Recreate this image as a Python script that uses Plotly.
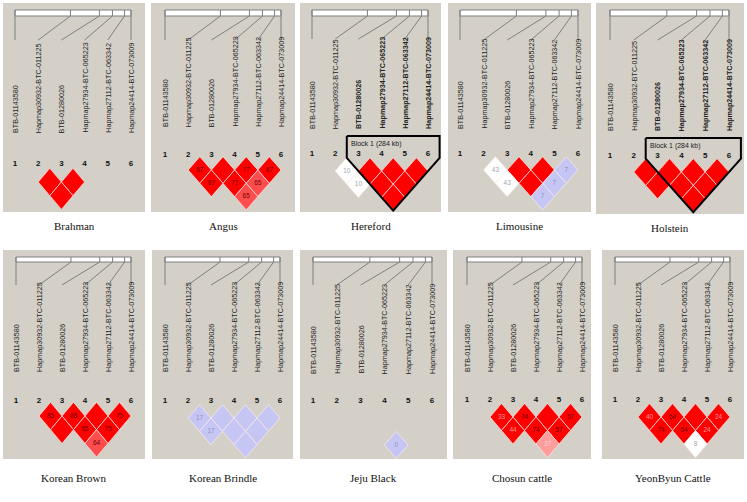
import plotly.graph_objects as go

W, H = 747, 502

# ---------------- data ----------------
BREEDS = ["Brahman", "Angus", "Hereford", "Limousine", "Holstein",
          "Korean Brown", "Korean Brindle", "Jeju Black", "Chosun cattle", "YeonByun Cattle"]
MARKERS = ["BTB-01143580", "Hapmap30932-BTC-011225", "BTB-01280026",
           "Hapmap27934-BTC-065223", "Hapmap27112-BTC-063342", "Hapmap24414-BTC-073009"]
MARKER_NUM = ["1", "2", "3", "4", "5", "6"]
POS_KB = [0, 499, 760, 877, 986, 1044]          # physical map positions (kb)
PAIRS = [(2, 3), (3, 4), (4, 5), (5, 6), (2, 4), (3, 5), (4, 6), (3, 6)]

# D' x 100 per pair (None = not drawn, 100 = not printed)
DP_BRAHMAN = [100, 100, None, None, 100, None, None, None]
DP_ANGUS = [87, 100, 77, 87, 87, 77, 65, 65]
DP_HEREFORD = [10, 100, 100, 100, 10, 100, 100, 100]
DP_LIMOUSINE = [43, 100, 100, 7, 43, 100, 7, 7]
DP_HOLSTEIN = [100, 100, 100, 100, 100, 100, 100, 100]
DP_KBROWN = [85, 68, 100, 75, 100, 65, 75, 64]
DP_KBRINDLE = [17, 100, 100, 100, 17, 100, 100, 100]
DP_JEJU = [None, None, None, None, None, None, None, 0]
DP_CHOSUN = [33, 74, 100, 57, 44, 74, 57, 37]
DP_YEONBYUN = [40, 54, 100, 24, 74, 54, 24, 8]

# LD colour class per pair: R strong (dark text), r strong (light text), M mid-red,
# P pink, W weak (white), B low-LOD (blue)
CL_BRAHMAN = ["R", "R", "", "", "R", "", "", ""]
CL_ANGUS = ["R", "R", "R", "R", "R", "R", "M", "M"]
CL_HEREFORD = ["W", "R", "R", "R", "W", "R", "R", "R"]
CL_LIMOUSINE = ["W", "R", "R", "B", "W", "R", "B", "B"]
CL_HOLSTEIN = ["R"] * 8
CL_KBROWN = ["R", "R", "R", "R", "R", "R", "R", "M"]
CL_KBRINDLE = ["B"] * 8
CL_JEJU = ["", "", "", "", "", "", "", "B"]
CL_CHOSUN = ["r", "R", "R", "R", "r", "R", "R", "P"]
CL_YEONBYUN = ["r", "R", "R", "r", "R", "R", "r", "W"]

DPS = [DP_BRAHMAN, DP_ANGUS, DP_HEREFORD, DP_LIMOUSINE, DP_HOLSTEIN,
       DP_KBROWN, DP_KBRINDLE, DP_JEJU, DP_CHOSUN, DP_YEONBYUN]
CLS = [CL_BRAHMAN, CL_ANGUS, CL_HEREFORD, CL_LIMOUSINE, CL_HOLSTEIN,
       CL_KBROWN, CL_KBRINDLE, CL_JEJU, CL_CHOSUN, CL_YEONBYUN]
BLOCKS = {"Hereford": (3, 6, "Block 1 (284 kb)"), "Holstein": (3, 6, "Block 1 (284 kb)")}

# ---------------- layout geometry (pixels) ----------------
# L, R, T, B, m1, m6, bar_top, bar_bot, line_end, label_bottom, num_y, row1, vstep, title_y
GEOM = [
    (3, 145, 3, 212, 15, 131, 10, 16, 40, 134, 164, 182, 13.7, 226),
    (151, 295, 3, 212, 165, 281, 10, 16, 40, 128, 155, 170, 13.3, 226),
    (300, 441, 3, 212, 312, 428, 10, 16, 39, 130, 154, 171, 13.2, 226),
    (448, 591, 3, 212, 460, 578, 10, 16, 40, 130, 154, 170, 13.3, 226),
    (596, 744, 3, 214, 610, 729, 10, 16, 40, 132, 156, 172, 13.4, 228),
    (3, 145, 250, 459, 16, 131, 257, 262, 285, 373, 401, 416, 13.7, 478),
    (152, 293, 250, 459, 165, 280, 257, 262, 285, 373, 401, 418, 13.3, 478),
    (300, 447, 250, 459, 313, 432, 257, 262, 285, 375, 401, 418, 13.5, 478),
    (453, 591, 250, 459, 467, 582, 257, 262, 285, 373, 400, 417, 13.5, 478),
    (602, 744, 250, 459, 615, 730, 257, 262, 285, 373, 400, 417, 13.5, 478),
]

FILL = {"R": "#ff0000", "r": "#ff0000", "M": "#ff4d4d", "P": "#ff9c9c",
        "W": "#ffffff", "B": "#c6c6f4"}
TXT = {"R": "#6e0000", "r": "#ff9a9a", "M": "#6e0000", "P": "#ffd0d0",
       "W": "#a8a8a8", "B": "#9090c0"}

GRAY = "#d4d0c8"
LINEC = "#7f7f7f"

fig = go.Figure()
annotations = []

for k, breed in enumerate(BREEDS):
    L, R, T, B, m1, m6, bt, bb, le, lb, ny, row1, vs, tyy = GEOM[k]
    sp = (m6 - m1) / 5.0
    xa = "x" if k == 0 else f"x{k+1}"
    ya = "y" if k == 0 else f"y{k+1}"
    xkey = "xaxis" if k == 0 else f"xaxis{k+1}"
    ykey = "yaxis" if k == 0 else f"yaxis{k+1}"
    fig.layout[xkey] = dict(domain=[L / W, R / W],
                            range=[1 + (L - m1) / sp, 1 + (R - m1) / sp],
                            visible=False, fixedrange=True, anchor=ya)
    fig.layout[ykey] = dict(domain=[1 - B / H, 1 - T / H], range=[B, T],
                            visible=False, fixedrange=True, anchor=xa)

    total = POS_KB[-1]
    phys = [1 + 5 * p / total for p in POS_KB]
    # physical map bar
    fig.add_trace(go.Scatter(x=[1, 6, 6, 1, 1], y=[bt, bt, bb, bb, bt], mode="lines",
                             fill="toself", fillcolor="#ffffff",
                             line=dict(color=LINEC, width=1), xaxis=xa, yaxis=ya,
                             hoverinfo="skip"))
    lx, ly = [], []
    for i, px in enumerate(phys):
        lx += [px, px, None]
        ly += [bt, bb, None]
        lx += [px, i + 1, None]
        ly += [bb, le, None]
    fig.add_trace(go.Scatter(x=lx, y=ly, mode="lines", line=dict(color=LINEC, width=1),
                             xaxis=xa, yaxis=ya, hoverinfo="skip"))

    # marker names (rotated)
    blk = BLOCKS.get(breed)
    for i, name in enumerate(MARKERS):
        bold = blk is not None and blk[0] <= i + 1 <= blk[1]
        annotations.append(dict(x=i + 1, y=lb, xref=xa, yref=ya, text=f"<b>{name}</b>" if bold else name,
                                textangle=-90, showarrow=False, xanchor="center", yanchor="bottom",
                                font=dict(family="Liberation Sans, Arial", size=7.2, color="#222222"),
                                borderpad=0))
    # marker numbers
    fig.add_trace(go.Scatter(x=[1, 2, 3, 4, 5, 6], y=[ny] * 6, mode="text",
                             text=[f"<b>{n}</b>" for n in MARKER_NUM],
                             textfont=dict(family="Liberation Sans, Arial", size=8, color="#111111"),
                             xaxis=xa, yaxis=ya, hoverinfo="skip"))

    # LD diamonds
    tx, ty, tt, tc = [], [], [], []
    for (i, j), dp, cl in zip(PAIRS, DPS[k], CLS[k]):
        if dp is None:
            continue
        cx = (i + j) / 2.0
        cy = row1 + (j - i - 1) * vs
        fig.add_trace(go.Scatter(x=[cx - 0.5, cx, cx + 0.5, cx, cx - 0.5],
                                 y=[cy, cy - vs, cy, cy + vs, cy],
                                 mode="lines", fill="toself", fillcolor=FILL[cl],
                                 line=dict(color="rgba(255,235,235,0.85)", width=0.8),
                                 xaxis=xa, yaxis=ya, hoverinfo="skip"))
        if dp != 100:
            tx.append(cx)
            ty.append(cy)
            tt.append(str(dp))
            tc.append(TXT[cl])
    if tx:
        fig.add_trace(go.Scatter(x=tx, y=ty, mode="text", text=tt,
                                 textfont=dict(family="Liberation Sans, Arial", size=6.5, color=tc),
                                 xaxis=xa, yaxis=ya, hoverinfo="skip"))

    # haplotype block outline
    if blk is not None:
        a, b, label = blk
        n = b - a
        tip_y = row1 + n * vs
        top_y = ny - 18
        bx = [a - 0.5, b + 0.5, b + 0.5, (a + b) / 2.0, a - 0.5, a - 0.5]
        yb = row1 - vs
        by = [top_y, top_y, yb, tip_y, yb, top_y]
        fig.add_trace(go.Scatter(x=bx, y=by, mode="lines", line=dict(color="#000000", width=2),
                                 xaxis=xa, yaxis=ya, hoverinfo="skip"))
        annotations.append(dict(x=a - 0.4, y=top_y + 2, xref=xa, yref=ya, text=label,
                                showarrow=False, xanchor="left", yanchor="top",
                                font=dict(family="Liberation Sans, Arial", size=7, color="#222222")))

    # breed title
    annotations.append(dict(x=(L + R) / 2 / W, y=1 - tyy / H, xref="paper", yref="paper",
                            text=breed, showarrow=False, xanchor="center", yanchor="middle",
                            font=dict(family="Liberation Serif, Times New Roman", size=11, color="#111111")))

fig.update_layout(width=W, height=H, margin=dict(l=0, r=0, t=0, b=0),
                  paper_bgcolor="#ffffff", plot_bgcolor=GRAY, showlegend=False,
                  annotations=annotations, hovermode=False)
fig.write_html("out.html", config={"displayModeBar": False, "staticPlot": True},
               post_script="document.body.style.margin='0px';")
